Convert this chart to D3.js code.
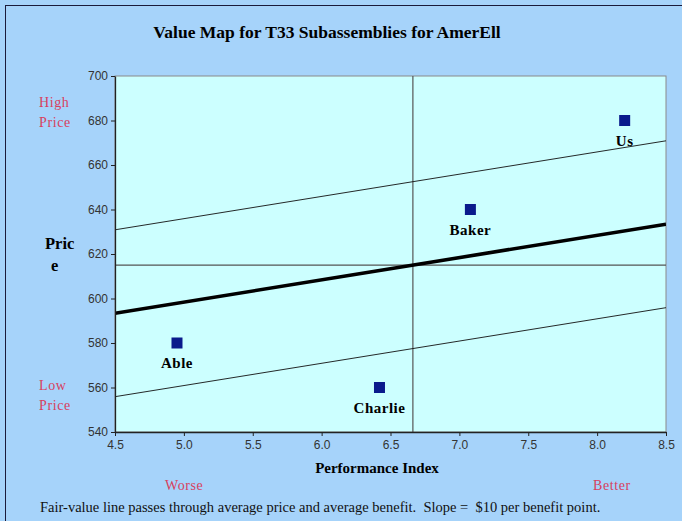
<!DOCTYPE html>
<html><head><meta charset="utf-8">
<script src="https://cdn.jsdelivr.net/npm/d3@7"></script>
<style>
html,body{margin:0;padding:0;background:#a6d3fa;}
svg{display:block;}
</style></head>
<body>
<svg id="chart" width="682" height="521"></svg>
<script>
// ---- data ----
const competitors = ["Able", "Baker", "Charlie", "Us"];
const performance = [4.95, 7.08, 6.42, 8.2];
const price = [580, 640, 560, 680];
const xTicks = [4.5, 5.0, 5.5, 6.0, 6.5, 7.0, 7.5, 8.0, 8.5];
const yTicks = [540, 560, 580, 600, 620, 640, 660, 680, 700];
const xDomain = [4.5, 8.5];
const yDomain = [540, 700];
const fairSlope = [10];          // $ per benefit point
const bandOffsets = [37.5, -37.5]; // thin parallel lines
const titleText = "Value Map for T33 Subassemblies for AmerEll";
const footerText = "Fair-value line passes through average price and average benefit.  Slope =  $10 per benefit point.";

const svg = d3.select("#chart");
const W = 682, H = 521;
const plot = {left: 115, top: 76, right: 666, bottom: 432};
const x = d3.scaleLinear().domain(xDomain).range([plot.left, plot.right]);
const y = d3.scaleLinear().domain(yDomain).range([plot.bottom, plot.top]);
const serif = "'Liberation Serif','Times New Roman',serif";
const sans = "'Liberation Sans',Arial,sans-serif";
const red = "#d8405e";

// background + frame
svg.append("rect").attr("width", W).attr("height", H).attr("fill", "#a6d3fa");
svg.append("line").attr("x1", 5.5).attr("x2", 5.5).attr("y1", 5).attr("y2", H).attr("stroke", "#1a1a3a").attr("stroke-width", 1);
svg.append("line").attr("x1", 5).attr("x2", W).attr("y1", 5.5).attr("y2", 5.5).attr("stroke", "#1a1a3a").attr("stroke-width", 1);

// plot area
svg.append("rect").attr("x", plot.left).attr("y", plot.top)
  .attr("width", plot.right - plot.left).attr("height", plot.bottom - plot.top)
  .attr("fill", "#ccffff").attr("stroke", "#8a8a8a").attr("stroke-width", 1);

const meanX = d3.mean(performance), meanY = d3.mean(price);
const fair = v => meanY + fairSlope[0] * (v - meanX);

svg.append("clipPath").attr("id", "clip").append("rect")
  .attr("x", plot.left).attr("y", plot.top).attr("width", plot.right - plot.left).attr("height", plot.bottom - plot.top);
const g = svg.append("g").attr("clip-path", "url(#clip)");

// average lines
g.append("line").attr("x1", x(meanX)).attr("x2", x(meanX)).attr("y1", plot.top).attr("y2", plot.bottom)
  .attr("stroke", "#555").attr("stroke-width", 1.2);
g.append("line").attr("x1", plot.left).attr("x2", plot.right).attr("y1", y(meanY)).attr("y2", y(meanY))
  .attr("stroke", "#555").attr("stroke-width", 1.2);

// band lines
bandOffsets.forEach(o => {
  g.append("line").attr("x1", x(xDomain[0])).attr("y1", y(fair(xDomain[0]) + o))
    .attr("x2", x(xDomain[1])).attr("y2", y(fair(xDomain[1]) + o))
    .attr("stroke", "#111").attr("stroke-width", 0.9);
});
// fair value line
g.append("line").attr("x1", x(xDomain[0])).attr("y1", y(fair(xDomain[0])))
  .attr("x2", x(xDomain[1])).attr("y2", y(fair(xDomain[1])))
  .attr("stroke", "#000").attr("stroke-width", 3.6);

// axes
const xAxis = d3.axisBottom(x).tickValues(xTicks).tickFormat(d3.format(".1f")).tickSize(4).tickSizeOuter(0);
const yAxis = d3.axisLeft(y).tickValues(yTicks).tickFormat(d3.format("d")).tickSize(4).tickSizeOuter(0);
const gx = svg.append("g").attr("transform", `translate(0,${plot.bottom})`).call(xAxis);
const gy = svg.append("g").attr("transform", `translate(${plot.left},0)`).call(yAxis);
[gx, gy].forEach(a => {
  a.attr("font-size", null).attr("font-family", null);
  a.select(".domain").attr("stroke", "#222").attr("stroke-width", 1.3);
  a.selectAll(".tick line").attr("stroke", "#222");
  a.selectAll("text").style("font-family", sans).style("font-size", "12px").attr("fill", "#333");
});
gx.selectAll("text").attr("dy", "0.85em");
gy.selectAll("text").attr("x", -7);

// points
const pts = competitors.map((c, i) => ({name: c, x: performance[i], y: price[i]}));
svg.selectAll("rect.pt").data(pts).join("rect").attr("class", "pt")
  .attr("x", d => x(d.x) - 5.5).attr("y", d => y(d.y) - 5.5)
  .attr("width", 11).attr("height", 11).attr("fill", "#0a1a8c");
svg.selectAll("text.lbl").data(pts).join("text").attr("class", "lbl")
  .attr("x", d => x(d.x)).attr("y", d => y(d.y) + 25)
  .attr("text-anchor", "middle").attr("font-family", serif).attr("font-size", 15).attr("font-weight", "bold")
  .attr("letter-spacing", 0.5).attr("fill", "#000").text(d => d.name);

// title
svg.append("text").attr("x", 327).attr("y", 38).attr("text-anchor", "middle")
  .attr("font-family", serif).attr("font-weight", "bold").attr("font-size", 17.5).text(titleText);

// axis titles
svg.append("text").attr("x", 377).attr("y", 473).attr("text-anchor", "middle")
  .attr("font-family", serif).attr("font-weight", "bold").attr("font-size", 15).text("Performance Index");
const pt = svg.append("text").attr("font-family", serif).attr("font-weight", "bold").attr("font-size", 16.5);
pt.append("tspan").attr("x", 45).attr("y", 249).text("Pric");
pt.append("tspan").attr("x", 51).attr("y", 271).text("e");

// red annotations
const redLabels = [
  {t: "High", x: 39, y: 107}, {t: "Price", x: 39, y: 127},
  {t: "Low", x: 39, y: 390}, {t: "Price", x: 39, y: 410},
  {t: "Worse", x: 165, y: 490}, {t: "Better", x: 593, y: 490}
];
svg.selectAll("text.red").data(redLabels).join("text").attr("class", "red")
  .attr("x", d => d.x).attr("y", d => d.y).attr("font-family", serif).attr("font-size", 14)
  .attr("letter-spacing", 0.6).attr("fill", red).text(d => d.t);

// footer
svg.append("text").attr("x", 40).attr("y", 512).attr("font-family", serif).attr("font-size", 14.5)
  .attr("fill", "#111").style("white-space", "pre").text(footerText);
</script>
</body></html>
